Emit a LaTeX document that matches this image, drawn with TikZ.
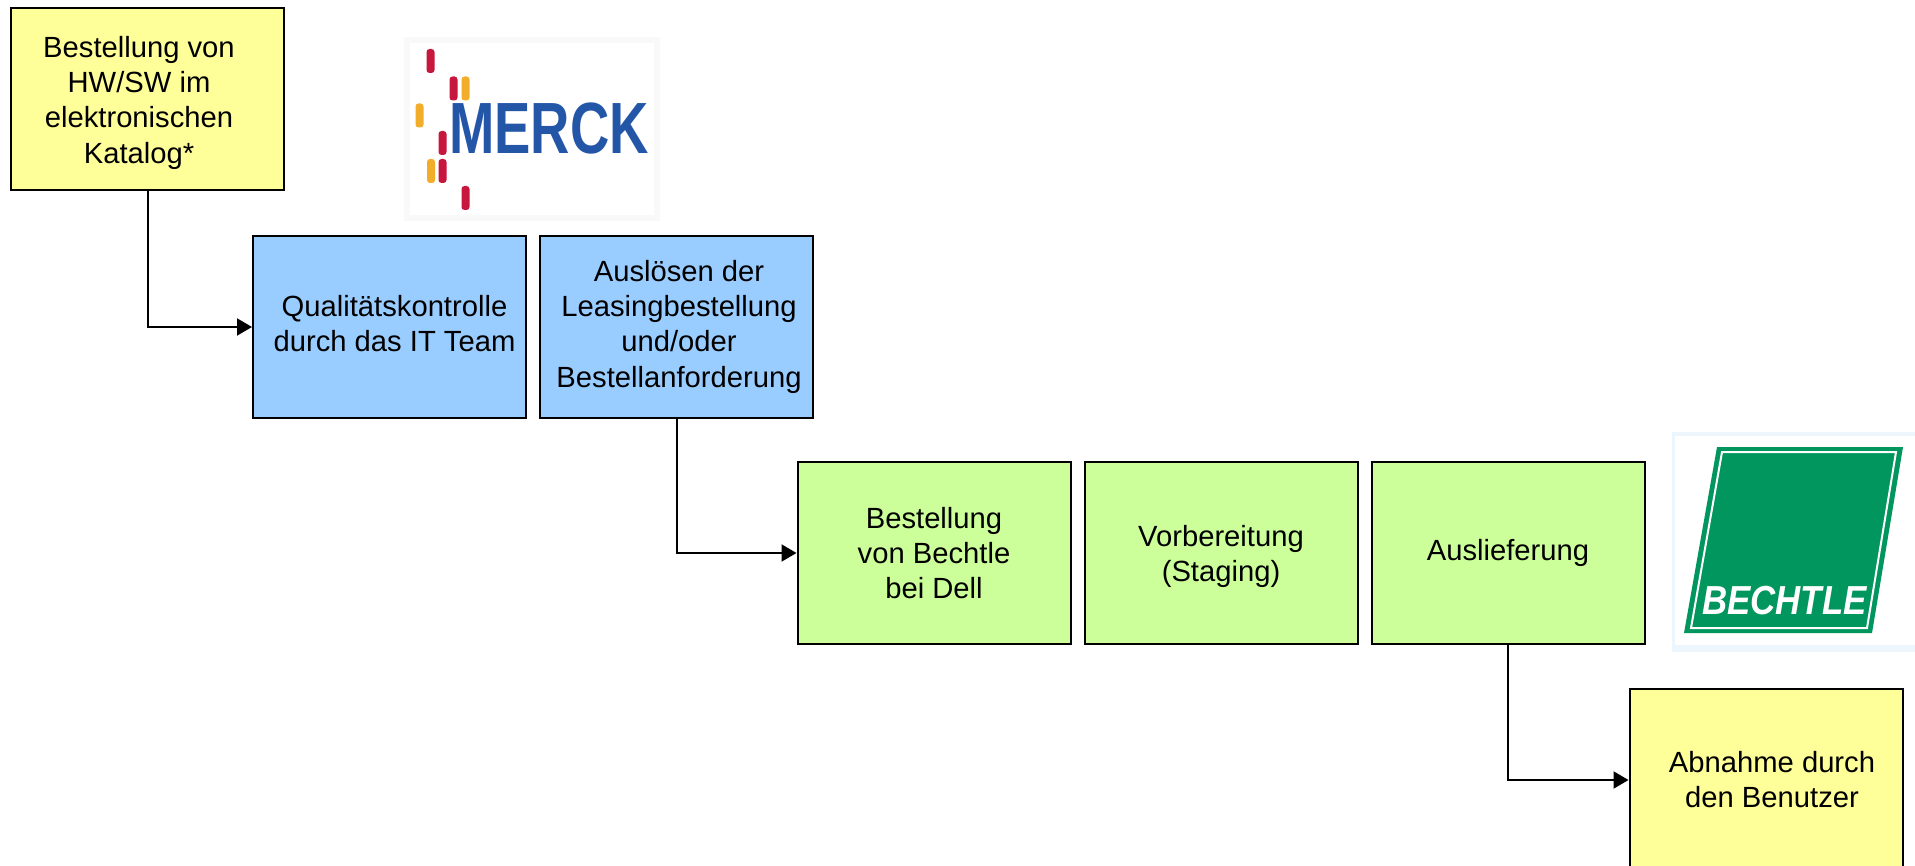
\documentclass[tikz,border=0pt]{standalone}
\usepackage{fontspec}
\setmainfont{Liberation Sans}
\usepackage{xcolor}
\usepackage{tikz}
\usetikzlibrary{arrows.meta}
\pgfdeclarelayer{nodelayer}
\pgfdeclarelayer{edgelayer}
\pgfsetlayers{nodelayer,edgelayer,main}
\definecolor{boxyellow}{HTML}{FFFF99}
\definecolor{boxblue}{HTML}{99CCFF}
\definecolor{boxgreen}{HTML}{CCFF99}
\definecolor{merckblue}{HTML}{2456A8}
\definecolor{merckred}{HTML}{C8173F}
\definecolor{merckorange}{HTML}{F2AE2B}
\definecolor{merckedge}{HTML}{F9F9F9}
\definecolor{bechtlegreen}{HTML}{00965E}
\definecolor{bechtleedge}{HTML}{EEF6FD}
\tikzset{
  stepbox/.style={draw=black, line width=1pt, minimum width=136.5pt, minimum height=91pt,
    inner sep=0pt, align=center, font=\fontsize{14.6}{17.65}\selectfont},
  flow/.style={line width=1pt, -{Triangle[length=7.5pt, width=8.5pt]}},
  redbar/.style={fill=merckred, rounded corners=1.5pt, inner sep=0pt, minimum width=4pt, minimum height=12pt},
  orangebar/.style={redbar, fill=merckorange},
}
\newcommand{\movedtext}[3]{\raisebox{#2}[\height][\depth]{\hspace*{#1}\begin{tabular}{@{}c@{}}#3\end{tabular}\hspace*{-#1}}}

\begin{document}
\begin{tikzpicture}[x=0.5pt, y=-0.5pt]
  \useasboundingbox (0, 0) rectangle (1915, 866);
  \begin{pgfonlayer}{nodelayer}
    \node [stepbox, fill=boxyellow] (0) at (147.5, 99.5) {\movedtext{-4.25pt}{-1.75pt}{Bestellung von\\HW/SW im\\elektronischen\\Katalog*}};
    \node [stepbox, fill=boxblue] (1) at (389.5, 327) {\movedtext{2.5pt}{0pt}{Qualitätskontrolle\\durch das IT Team}};
    \node [stepbox, fill=boxblue] (2) at (676.5, 327) {\movedtext{1.25pt}{0pt}{Auslösen der\\Leasingbestellung\\und/oder\\Bestellanforderung}};
    \node [stepbox, fill=boxgreen] (3) at (934, 553) {Bestellung\\von Bechtle\\bei Dell};
    \node [stepbox, fill=boxgreen] (4) at (1221, 553) {\movedtext{0pt}{-2pt}{Vorbereitung\\(Staging)}};
    \node [stepbox, fill=boxgreen] (5) at (1508, 553) {Auslieferung};
    \node [stepbox, fill=boxyellow] (6) at (1766, 780) {\movedtext{3pt}{-1.5pt}{Abnahme durch\\den Benutzer}};

    % merck logo
    \fill [merckedge] (404, 37) rectangle (660, 221);
    \fill [white] (410, 43) rectangle (654, 215);
    \node [redbar] (7) at (430.5, 61) {};
    \node [redbar] (8) at (453.5, 88.5) {};
    \node [orangebar] (9) at (465.5, 88.5) {};
    \node [orangebar] (10) at (419.5, 115.5) {};
    \node [redbar] (11) at (442.5, 143) {};
    \node [orangebar] (12) at (431, 171) {};
    \node [redbar] (13) at (442.5, 171) {};
    \node [redbar] (14) at (465.5, 198) {};
    \node [text=merckblue, inner sep=0pt, font=\fontsize{36.3}{40}\selectfont\bfseries] (15) at (549, 129) {\scalebox{0.75}[1]{MERCK}};

    % bechtle logo
    \fill [bechtleedge] (1672, 432) rectangle (1915, 652);
    \fill [white] (1675, 436) rectangle (1915, 645);
    \fill [bechtlegreen] (1717, 447) -- (1903, 447) -- (1872, 633) -- (1684, 633) -- cycle;
    \draw [white, line width=1pt] (1722, 452) -- (1896, 452) -- (1867, 628) -- (1691, 628) -- cycle;
    \node [text=white, inner sep=0pt, font=\fontsize{20.25}{24}\selectfont\bfseries\itshape] (16) at (1784.5, 600.5) {\scalebox{0.86}[1]{BECHTLE}};
  \end{pgfonlayer}
  \begin{pgfonlayer}{edgelayer}
    \draw [flow] (0) |- (1);
    \draw [flow] (2) |- (3);
    \draw [flow] (5) |- (6);
  \end{pgfonlayer}
\end{tikzpicture}
\end{document}
